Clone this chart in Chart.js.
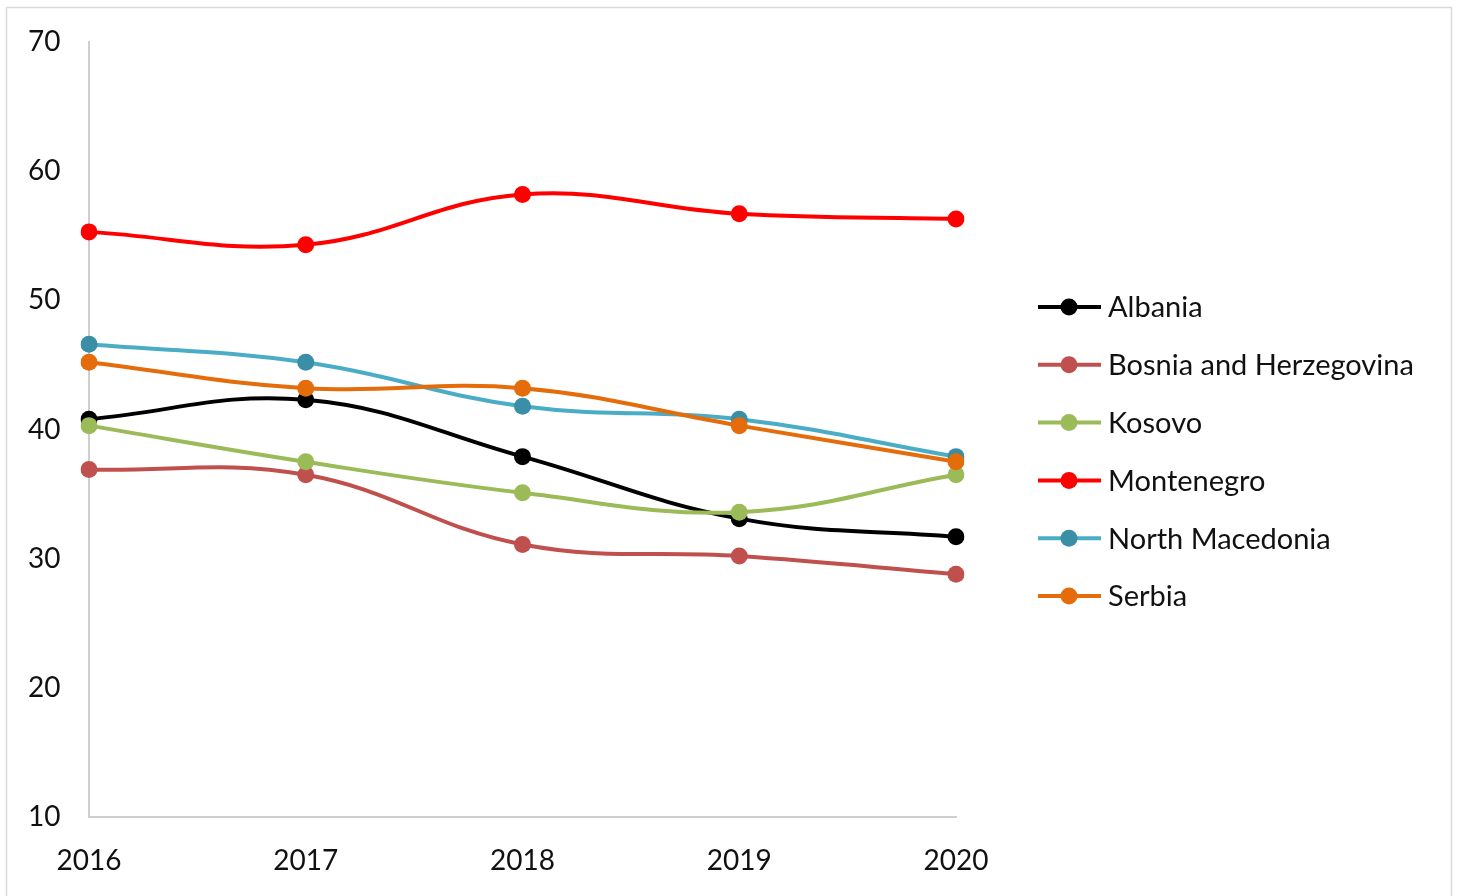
<!DOCTYPE html>
<html>
<head>
<meta charset="utf-8">
<script src="https://cdn.jsdelivr.net/npm/chart.js@4"></script>
<style>
  html, body { margin: 0; padding: 0; background: #fff; }
  #wrap { width: 1460px; height: 896px; }
</style>
</head>
<body>
<div id="wrap"><canvas id="lineChart" width="1460" height="896"></canvas></div>
<script>
const years = ["2016", "2017", "2018", "2019", "2020"];
const countries = ["Albania", "Bosnia and Herzegovina", "Kosovo", "Montenegro", "North Macedonia", "Serbia"];
const albania = [40.8, 42.3, 37.9, 33.1, 31.7];
const bosnia = [36.9, 36.5, 31.1, 30.2, 28.8];
const kosovo = [40.3, 37.5, 35.1, 33.6, 36.5];
const montenegro = [55.3, 54.3, 58.2, 56.7, 56.3];
const northMacedonia = [46.6, 45.2, 41.8, 40.8, 37.9];
const serbia = [45.2, 43.2, 43.2, 40.3, 37.5];
const yTicks = [10, 20, 30, 40, 50, 60, 70];

const seriesValues = [albania, bosnia, kosovo, montenegro, northMacedonia, serbia];
const lineColors = ["#000000", "#c0504d", "#9bbb59", "#ff0000", "#4bacc6", "#e46c0a"];
const dotColors = ["#000000", "#c0504d", "#9bbb59", "#ff0000", "#3a8ea6", "#e46c0a"];

const FONT = "Lato, 'Open Sans', sans-serif";

// 凡例（線＋丸）を右側に描く
const legendPlugin = {
    id: "sideLegend",
    afterDraw(chart) {
        const ctx = chart.ctx;
        ctx.save();
        countries.forEach((name, i) => {
            const y = 307 + i * 57.8;
            ctx.strokeStyle = lineColors[i];
            ctx.lineWidth = 4;
            ctx.beginPath();
            ctx.moveTo(1038, y);
            ctx.lineTo(1101, y);
            ctx.stroke();
            ctx.fillStyle = dotColors[i];
            ctx.beginPath();
            ctx.arc(1069, y, 8.5, 0, Math.PI * 2);
            ctx.fill();
            ctx.fillStyle = "#111";
            ctx.font = "29px " + FONT;
            ctx.textBaseline = "middle";
            ctx.textAlign = "left";
            ctx.fillText(name, 1108, y + 1);
        });
        ctx.restore();
    }
};

// 外枠
const framePlugin = {
    id: "frame",
    beforeDraw(chart) {
        const ctx = chart.ctx;
        ctx.save();
        ctx.fillStyle = "#fff";
        ctx.fillRect(0, 0, chart.width, chart.height);
        ctx.strokeStyle = "#dadada";
        ctx.lineWidth = 1.5;
        ctx.strokeRect(6.5, 7.5, 1445, 900);
        ctx.restore();
    }
};

const ctx = document.getElementById("lineChart").getContext("2d");
const myLineChart = new Chart(ctx, {
    type: "line",
    data: {
        labels: years,
        datasets: countries.map((name, i) => ({
            label: name,
            data: seriesValues[i],
            borderColor: lineColors[i],
            backgroundColor: dotColors[i],
            pointBackgroundColor: dotColors[i],
            pointBorderColor: dotColors[i],
            pointRadius: 8.5,
            pointBorderWidth: 0,
            borderWidth: 4,
            tension: 0.4,
            fill: false,
            order: countries.length - i
        }))
    },
    options: {
        responsive: false,
        animation: false,
        events: [],
        layout: { padding: { left: 28, right: 504, top: 42, bottom: 0 } },
        plugins: {
            legend: { display: false },
            tooltip: { enabled: false }
        },
        scales: {
            x: {
                offset: false,
                grid: { drawOnChartArea: false, drawTicks: false },
                border: { display: true, color: "#cfcfcf", width: 2 },
                ticks: { color: "#111", font: { family: FONT, size: 28 }, padding: 27, maxRotation: 0 },
                afterFit(scale) { scale.height = 79; }
            },
            y: {
                min: 10,
                max: 70,
                afterBuildTicks(scale) { scale.ticks = yTicks.map(v => ({ value: v })); },
                grid: { drawOnChartArea: false, drawTicks: false },
                border: { display: true, color: "#cfcfcf", width: 2 },
                ticks: { color: "#111", font: { family: FONT, size: 28 }, crossAlign: "far", padding: 0 },
                afterFit(scale) { scale.width = 61; }
            }
        }
    },
    plugins: [framePlugin, legendPlugin]
});
</script>
</body>
</html>
